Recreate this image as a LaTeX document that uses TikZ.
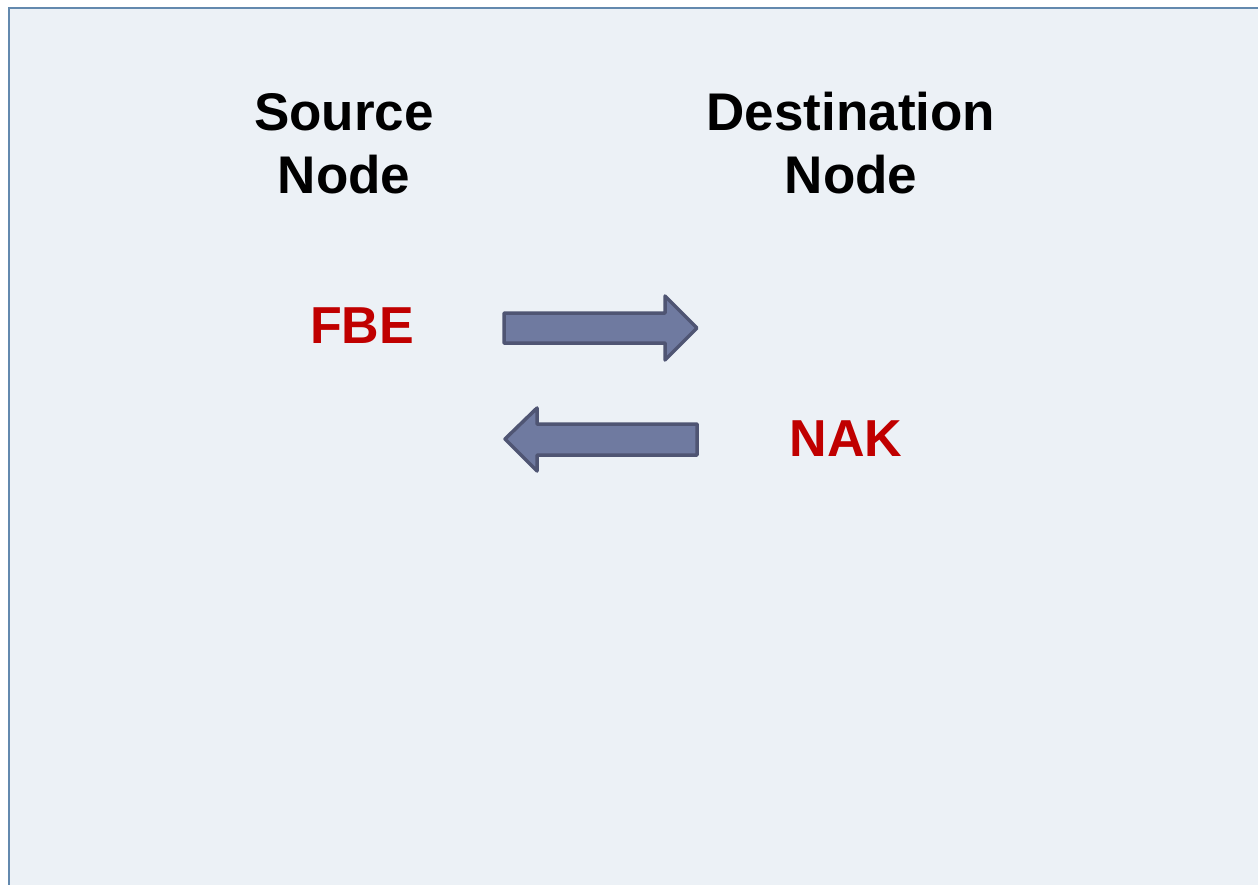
\documentclass[tikz,border=0pt]{standalone}
\usepackage{fontspec}
\setmainfont{Liberation Sans}
\definecolor{panelfill}{HTML}{ECF1F6}
\definecolor{paneledge}{HTML}{6389AE}
\definecolor{arrowfill}{HTML}{6F7AA0}
\definecolor{arrowedge}{HTML}{4F5573}
\definecolor{msgred}{HTML}{C00000}
\tikzset{
  heading/.style={font=\bfseries\fontsize{53}{63}\selectfont, align=center, inner sep=0pt, anchor=base, text=black},
  message/.style={font=\bfseries\fontsize{52}{62}\selectfont, inner sep=0pt, anchor=base, text=msgred},
  blockarrow/.style={fill=arrowfill, draw=arrowedge, line width=3.5pt, line join=round}
}
\begin{document}
\begin{tikzpicture}[x=1pt,y=-1pt]
  \useasboundingbox (0,0) rectangle (1258,884);
  % panel
  \fill[white] (0,0) rectangle (1258,884);
  \filldraw[fill=panelfill, draw=paneledge, line width=2pt] (9,8) rectangle (1270,900);
  % headings (base anchor sits on the second line)
  \node[heading] (src) at (344,193) {Source\\Node};
  \node[heading] (dst) at (851,193) {Destination\\Node};
  % messages
  \node[message] (fbe) at (362,343) {FBE};
  \node[message] (nak) at (846,456) {NAK};
  % block arrows
  \draw[blockarrow] (504,313) -- (665,313) -- (665,296) -- (697,328) -- (665,360) -- (665,343) -- (504,343) -- cycle;
  \draw[blockarrow] (697,424) -- (537,424) -- (537,408) -- (505,439) -- (537,471) -- (537,455) -- (697,455) -- cycle;
\end{tikzpicture}
\end{document}
